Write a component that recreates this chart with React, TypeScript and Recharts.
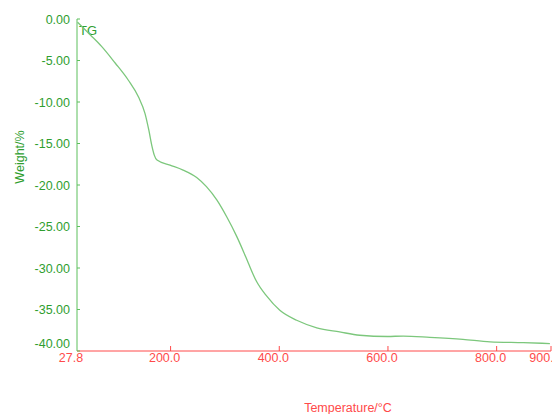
import { LineChart, Line, XAxis, YAxis, Customized } from 'recharts'

const temperature = [29, 52, 73, 98, 122, 141, 153, 160, 166, 170, 175, 199, 223, 248, 266, 285, 303, 321, 334, 343, 358, 377, 401, 432, 469, 511, 548, 599, 628, 677, 738, 788, 849, 898]
const weight = [-0.4, -1.9, -3.3, -5.3, -7.35, -9.4, -11.4, -13.4, -15.4, -16.4, -17.0, -17.6, -18.2, -19.1, -20.2, -21.8, -23.8, -26.1, -28.0, -29.4, -31.6, -33.4, -35.1, -36.3, -37.2, -37.7, -38.1, -38.25, -38.2, -38.35, -38.6, -38.9, -39.0, -39.1]

const xTicks = [27.8, 200, 400, 600, 800, 900]
const yTicks = [0, -5, -10, -15, -20, -25, -30, -35, -40]

const data = temperature.map((t, i) => ({ t, w: weight[i] }))

const FONT = '"Liberation Sans", Arial, sans-serif'
const GREEN_AXIS = '#5cbf5c'
const GREEN_TEXT = '#2f9e2f'
const RED = '#ff4a4a'

function XTick({ x = 0, y = 0, payload }: any) {
  const v = payload.value as number
  const edge = v === 27.8
  return (
    <g>
      {!edge && <line x1={x} x2={x} y1={y} y2={y - 5} stroke={RED} strokeWidth={1} />}
      <text x={x - 6} y={y + 11} textAnchor="middle" fill={RED} fontSize={12.5} fontFamily={FONT}>
        {v.toFixed(1)}
      </text>
    </g>
  )
}

function YTick({ x = 0, y = 0, payload }: any) {
  const v = payload.value as number
  const dy = v === -40 ? -8 : 0
  return (
    <g>
      <line x1={x} x2={x + 3} y1={y} y2={y} stroke={GREEN_AXIS} strokeWidth={1} />
      <text x={x - 7} y={y + dy + 4.5} textAnchor="end" fill={GREEN_TEXT} fontSize={12.5} fontFamily={FONT}>
        {v.toFixed(2)}
      </text>
    </g>
  )
}

function Labels() {
  return (
    <g fontFamily={FONT}>
      <text x={79} y={35} fill={GREEN_TEXT} fontSize={13}>TG</text>
      <text x={348} y={412} textAnchor="middle" fill={RED} fontSize={12.5}>Temperature/°C</text>
      <text x={24} y={157} textAnchor="middle" fill={GREEN_TEXT} fontSize={12.5} transform="rotate(-90 24 157)">Weight/%</text>
    </g>
  )
}

export default function App() {
  return (
    <div style={{ position: 'absolute', left: 0, top: 0, width: 552, height: 414, background: '#fff' }}>
      <LineChart width={552} height={414} data={data} margin={{ top: 19, right: 1, left: 0, bottom: 0 }}>
        <XAxis
          dataKey="t"
          type="number"
          domain={[27.8, 900]}
          ticks={xTicks}
          allowDataOverflow
          height={63}
          stroke={RED}
          tickLine={false}
          tickSize={0}
          tickMargin={0}
          tick={<XTick />}
          interval={0}
        />
        <YAxis
          type="number"
          domain={[-40, 0]}
          ticks={yTicks}
          allowDataOverflow
          width={77}
          stroke={GREEN_AXIS}
          tickLine={false}
          tickSize={0}
          tickMargin={0}
          tick={<YTick />}
          interval={0}
        />
        <Line
          type="monotone"
          dataKey="w"
          stroke="#7cc77c"
          strokeWidth={1.3}
          dot={false}
          isAnimationActive={false}
        />
        <Customized component={<Labels />} />
      </LineChart>
    </div>
  )
}
